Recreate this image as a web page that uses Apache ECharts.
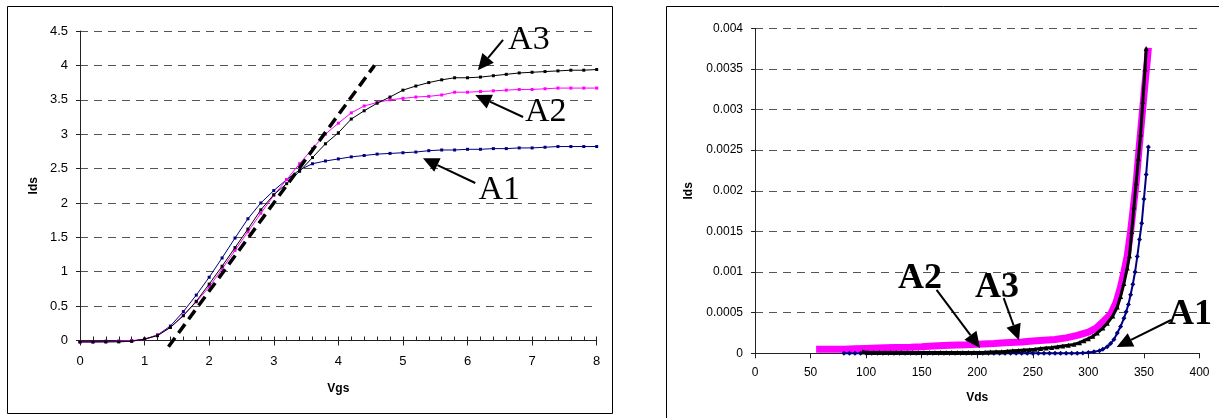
<!DOCTYPE html>
<html><head><meta charset="utf-8">
<script src="https://cdn.jsdelivr.net/npm/echarts@6/dist/echarts.min.js"></script>
<style>html,body{margin:0;padding:0;background:#fff}#c{width:1219px;height:418px}</style>
</head><body><div id="c"></div>
<script>
// ---------- Left chart: Ids vs Vgs ----------
const vgs = [0,0.2,0.4,0.6,0.8,1.0,1.2,1.4,1.6,1.8,2.0,2.2,2.4,2.6,2.8,3.0,3.2,3.4,3.6,3.8,4.0,4.2,4.4,4.6,4.8,5.0,5.2,5.4,5.6,5.8,6.0,6.2,6.4,6.6,6.8,7.0,7.2,7.4,7.6,7.8,8.0];
const idsA1 = [-0.02,-0.02,-0.01,-0.01,-0.01,0.02,0.08,0.21,0.42,0.66,0.92,1.20,1.49,1.77,2.00,2.18,2.34,2.48,2.57,2.61,2.64,2.67,2.69,2.71,2.72,2.73,2.74,2.76,2.77,2.77,2.78,2.78,2.79,2.79,2.80,2.80,2.81,2.82,2.82,2.82,2.82];
const idsA2 = [-0.02,-0.02,-0.02,-0.01,0.00,0.015,0.08,0.19,0.37,0.56,0.78,1.04,1.31,1.58,1.85,2.11,2.34,2.57,2.79,3.00,3.16,3.31,3.41,3.46,3.50,3.52,3.54,3.55,3.57,3.61,3.61,3.62,3.63,3.64,3.65,3.65,3.66,3.67,3.67,3.67,3.67];
const idsA3 = [-0.02,-0.02,-0.02,-0.02,-0.01,0.02,0.07,0.19,0.36,0.57,0.82,1.08,1.35,1.62,1.90,2.12,2.28,2.46,2.66,2.86,3.02,3.22,3.34,3.45,3.54,3.64,3.70,3.75,3.79,3.82,3.82,3.83,3.85,3.87,3.89,3.90,3.91,3.92,3.93,3.93,3.94];
const fitVgs = [1.37, 4.56];
const fitIds = [-0.09, 4.0];
const vgsTicks = [0,1,2,3,4,5,6,7,8];

// ---------- Right chart: Ids vs Vds ----------
const vdsA1 = [80,85,90,95,100,105,110,115,120,125,130,135,140,145,150,155,160,165,170,175,180,185,190,195,200,205,210,215,220,225,230,235,240,245,250,255,260,265,270,275,280,285,290,295,300,305,310,313,317,320,323,326,329,332,334,336,338,340,342,344,346,348,350,352,354];
const idsA1r = [0,0,0,0,0,0,0,0,0,0,0,0,0,0,0,0,0,0,0,0,0,0,0,0,0,0,0,0,0,0,0,0,0,0,0,0,0,0,0,0,0,0,0,0.000005,0.00001,0.00002,0.00003,0.00005,0.00008,0.00012,0.00017,0.00025,0.00033,0.00043,0.00051,0.0006,0.00072,0.00085,0.001,0.00119,0.0014,0.0016,0.0019,0.0022,0.00254];
const vdsA2 = [55,60,70,80,90,100,110,125,140,150,160,175,190,200,215,225,240,250,260,270,280,290,300,307,314,320,325,329,332,335,338,340.5,343,345.5,347.5,349.5,351.5,353,354];
const idsA2r = [0.00005,0.00005,0.00005,0.00005,0.000055,0.00006,0.000065,0.00007,0.000075,0.00008,0.00009,0.0001,0.000105,0.00011,0.00012,0.00013,0.00014,0.00015,0.00016,0.00017,0.00019,0.00022,0.00026,0.00031,0.0004,0.00048,0.00063,0.00082,0.001,0.0012,0.0015,0.0018,0.0021,0.0025,0.0028,0.0031,0.0034,0.0036,0.00376];
const vdsA3 = [97,102,107,112,117,122,127,132,137,142,147,152,157,162,167,172,177,182,187,192,197,202,207,212,217,222,227,232,237,242,247,252,257,262,267,272,277,282,287,292,296,300,304,308,313,317,322,326,329,332,335,337,339,341,343,345,347,349,351,352];
const idsA3r = [0.00002,0.00001,0.00001,0.00001,0.00001,0.00001,0.00001,0.00001,0.00001,0.00001,0.00001,0.00001,0.00001,0.00001,0.00001,0.00001,0.00001,0.00001,0.00001,0.00001,0.00001,0.00001,0.000012,0.000015,0.000018,0.00002,0.000025,0.00003,0.000035,0.00004,0.000045,0.00005,0.000058,0.000065,0.000072,0.00008,0.00009,0.0001,0.00011,0.00013,0.000155,0.00018,0.00021,0.00025,0.00031,0.00037,0.00046,0.00057,0.0007,0.00086,0.00105,0.0012,0.0015,0.0018,0.0021,0.0024,0.0027,0.0031,0.0035,0.00375];

// ---------- Annotations (data coordinates) ----------
const leftNotes = ['A1','A2','A3'];
const leftNoteAt = [[6.49,2.19],[7.21,3.32],[6.95,4.37]];
const leftArrowFrom = [[6.12,2.29],[6.86,3.25],[6.55,4.37]];
const leftArrowTo = [[5.31,2.65],[6.12,3.57],[6.16,3.93]];
const rightNotes = ['A1','A2','A3'];
const rightNoteAt = [[391.5,0.00047],[148.5,0.000914],[217.8,0.000804]];
const rightArrowFrom = [[374.4,0.00041],[163.4,0.00078],[223.8,0.00068]];
const rightArrowTo = [[325.5,0.000078],[202.5,0.000065],[237.6,0.00016]];

const zip = (xs, ys) => xs.map((x, i) => [x, ys[i]]);
const gridDash = {color:'#555', width:1, type:[8,6]};
const fontFam = 'Arial, "Liberation Sans", sans-serif';
const leftTick = {color:'#000', fontFamily:fontFam, fontSize:13};
const rightTick = {color:'#000', fontFamily:fontFam, fontSize:12};
const nameFont = {color:'#000', fontFamily:fontFam, fontSize:12, fontWeight:'bold'};

const chart = echarts.init(document.getElementById('c'), null, {renderer:'canvas'});
const option = {
  animation:false,
  backgroundColor:'#fff',
  grid:[
    {left:80, top:31, right:622.3, bottom:77.5, containLabel:false},
    {left:755, top:28.3, right:19.5, bottom:64.7, containLabel:false}
  ],
  xAxis:[
    {gridIndex:0, type:'value', min:0, max:8, interval:1, name:'Vgs', nameLocation:'middle', nameGap:42, nameTextStyle:nameFont,
      axisLine:{show:true, lineStyle:{color:'#222', width:1}}, axisTick:{show:true, length:5, lineStyle:{color:'#222'}},
      axisLabel:Object.assign({margin:14, customValues:vgsTicks}, leftTick), splitLine:{show:false}},
    {gridIndex:0, type:'value', min:0, max:8, interval:0.2, position:'bottom',
      axisLine:{show:false}, axisTick:{show:true, inside:true, length:4, lineStyle:{color:'#222'}},
      axisLabel:{show:false}, splitLine:{show:false}},
    {gridIndex:1, type:'value', min:0, max:400, interval:50, name:'Vds', nameLocation:'middle', nameGap:38, nameTextStyle:nameFont,
      axisLine:{show:true, lineStyle:{color:'#222', width:1}}, axisTick:{show:true, length:5, lineStyle:{color:'#222'}},
      axisLabel:Object.assign({margin:13}, rightTick), splitLine:{show:false}}
  ],
  yAxis:[
    {gridIndex:0, type:'value', min:0, max:4.5, interval:0.5, name:'Ids', nameLocation:'middle', nameGap:40, nameTextStyle:nameFont,
      axisLine:{show:true, lineStyle:{color:'#222', width:1}}, axisTick:{show:true, length:4, lineStyle:{color:'#222'}},
      axisLabel:Object.assign({margin:12}, leftTick), splitLine:{show:true, lineStyle:gridDash}},
    {gridIndex:1, type:'value', min:0, max:0.004, interval:0.0005, name:'Ids', nameLocation:'middle', nameGap:60, nameTextStyle:nameFont,
      axisLine:{show:true, lineStyle:{color:'#222', width:1}}, axisTick:{show:true, length:4, lineStyle:{color:'#222'}},
      axisLabel:Object.assign({margin:12, formatter:v => v === 0 ? '0' : String(+v.toFixed(4))}, rightTick),
      splitLine:{show:true, lineStyle:gridDash}}
  ],
  series:[
    {name:'A1', type:'line', xAxisIndex:0, yAxisIndex:0, data:zip(vgs, idsA1), clip:false, smooth:false,
      symbol:'rect', symbolSize:3, showSymbol:true, lineStyle:{color:'#000080', width:1}, itemStyle:{color:'#000080'}, z:3},
    {name:'A2', type:'line', xAxisIndex:0, yAxisIndex:0, data:zip(vgs, idsA2), clip:false,
      symbol:'rect', symbolSize:3, lineStyle:{color:'#ff00ff', width:1}, itemStyle:{color:'#ff00ff'}, z:4},
    {name:'A3', type:'line', xAxisIndex:0, yAxisIndex:0, data:zip(vgs, idsA3), clip:false,
      symbol:'rect', symbolSize:3, lineStyle:{color:'#000', width:1}, itemStyle:{color:'#000'}, z:5},
    {name:'fit', type:'line', xAxisIndex:0, yAxisIndex:0, data:zip(fitVgs, fitIds), clip:false, symbol:'none',
      lineStyle:{color:'#000', width:3.5, type:[11,6], cap:'butt'}, z:6},
    {name:'A2r', type:'line', xAxisIndex:2, yAxisIndex:1, data:zip(vdsA2, idsA2r), clip:false, symbol:'none',
      lineStyle:{color:'#ff00ff', width:7, cap:'butt'}, z:3},
    {name:'A1r', type:'line', xAxisIndex:2, yAxisIndex:1, data:zip(vdsA1, idsA1r), clip:false,
      symbol:'diamond', symbolSize:5, lineStyle:{color:'#000080', width:2}, itemStyle:{color:'#000080'}, z:4},
    {name:'A3r', type:'line', xAxisIndex:2, yAxisIndex:1, data:zip(vdsA3, idsA3r), clip:false,
      symbol:'triangle', symbolSize:5, lineStyle:{color:'#000', width:3}, itemStyle:{color:'#000'}, z:5}
  ]
};
chart.setOption(option);

function arrowGraphics(seriesIndex, from, to, notes, noteAt, font) {
  const out = [];
  for (let i = 0; i < notes.length; i++) {
    const p = chart.convertToPixel({seriesIndex}, from[i]);
    const q = chart.convertToPixel({seriesIndex}, to[i]);
    const t = chart.convertToPixel({seriesIndex}, noteAt[i]);
    const dx = q[0]-p[0], dy = q[1]-p[1], L = Math.hypot(dx, dy);
    const ux = dx/L, uy = dy/L, hl = 16, hw = 7.5;
    const bx = q[0]-ux*hl, by = q[1]-uy*hl;
    out.push({type:'line', shape:{x1:p[0], y1:p[1], x2:bx, y2:by}, style:{stroke:'#000', lineWidth:2}, z:100});
    out.push({type:'polygon', shape:{points:[[q[0],q[1]],[bx-uy*hw, by+ux*hw],[bx+uy*hw, by-ux*hw]]}, style:{fill:'#000'}, z:100});
    out.push({type:'text', x:t[0], y:t[1], style:{text:notes[i], fill:'#000', font:font, align:'center', verticalAlign:'middle'}, z:100});
  }
  return out;
}
const graphics = [
  {type:'rect', shape:{x:7.5, y:6.5, width:605, height:407}, style:{fill:'none', stroke:'#000', lineWidth:1}, z:0},
  {type:'rect', shape:{x:666.5, y:6.5, width:600, height:500}, style:{fill:'none', stroke:'#000', lineWidth:1}, z:0}
].concat(
  arrowGraphics(0, leftArrowFrom, leftArrowTo, leftNotes, leftNoteAt, '34px "Liberation Serif", "Times New Roman", serif'),
  arrowGraphics(4, rightArrowFrom, rightArrowTo, rightNotes, rightNoteAt, 'bold 36px "Liberation Serif", "Times New Roman", serif')
);
chart.setOption({graphic:graphics});
</script>
</body></html>
